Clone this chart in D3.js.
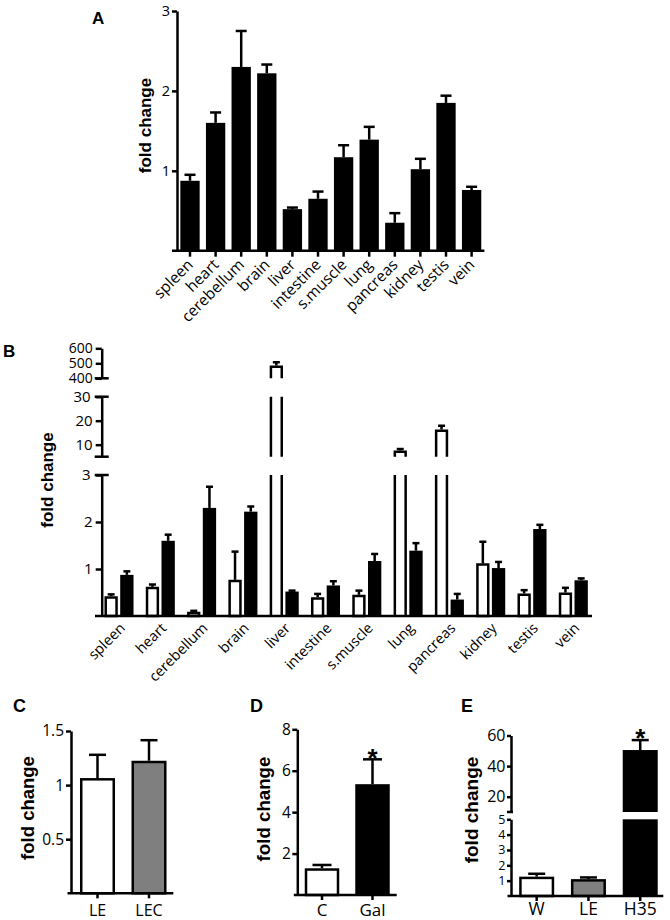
<!DOCTYPE html>
<html><head><meta charset="utf-8">
<script src="https://cdn.jsdelivr.net/npm/d3@7"></script>
<style>body{margin:0;background:#fff}svg{display:block}</style>
</head><body>
<svg id="c" width="670" height="920"></svg>
<script>
// ---------------- DATA ----------------
const tissues = ["spleen","heart","cerebellum","brain","liver","intestine","s.muscle","lung","pancreas","kidney","testis","vein"];
// filled series (panel A and filled bars of panel B)
const filledMean = [0.875,1.60,2.30,2.22,0.52,0.65,1.17,1.39,0.35,1.02,1.85,0.76];
const filledErr  = [0.075,0.13,0.45,0.11,0.02,0.09,0.15,0.16,0.12,0.13,0.09,0.04];
// open series (panel B)
const openMean = [0.42,0.62,0.09,0.77,485,0.40,0.45,7.6,16.3,1.12,0.48,0.50];
const openErr  = [0.04,0.05,0.02,0.60,22,0.07,0.09,0.6,1.6,0.46,0.07,0.10];
const aTicks = [1,2,3];
const bSegDomains = [[0,3],[5,30],[400,600]];
const bSegTicks = [[1,2,3],[10,20,30],[400,500,600]];
// panel C
const cCats = ["LE","LEC"];
const cMean = [1.065,1.225];
const cErr  = [0.215,0.19];
const cTicks = [0.5,1,1.5];
// panel D
const dCats = ["C","Gal"];
const dMean = [1.29,5.35];
const dErr  = [0.16,1.2];
const dTicks = [2,4,6,8];
// panel E
const eCats = ["W","LE","H35"];
const eMean = [1.26,1.10,50.5];
const eErr  = [0.19,0.11,6.5];
const eSegDomains = [[0,5],[10,60]];
const eSegTicks = [[1,2,3,4,5],[20,40,60]];
const dStar = ["Gal"], eStar = ["H35"];

// ---------------- DRAWING ----------------
const svg = d3.select("#c");
const FONT = "'Open Sans','Noto Sans',sans-serif";
const BOLD = "'Liberation Sans',Arial,Helvetica,sans-serif";
const SW = 2.5;

function styleAxis(g, size){
  g.attr("font-family",null).attr("font-size",null);
  g.selectAll("path.domain").attr("stroke","#000").attr("stroke-width",SW);
  g.selectAll(".tick line").attr("stroke","#000").attr("stroke-width",SW);
  g.selectAll(".tick text").attr("fill","#000").style("font-family",FONT).style("font-size",size+"px");
}
function hline(g,x1,x2,y){g.append("line").attr("x1",x1).attr("x2",x2).attr("y1",y).attr("y2",y).attr("stroke","#000").attr("stroke-width",SW);}
function errBar(g,cx,y1,y2,capW){
  g.append("line").attr("x1",cx).attr("x2",cx).attr("y1",y1).attr("y2",y2).attr("stroke","#000").attr("stroke-width",SW);
  hline(g,cx-capW/2,cx+capW/2,y2);
}
function yTitle(x,y,size){
  svg.append("text").attr("transform",`translate(${x},${y}) rotate(-90)`).attr("text-anchor","middle")
    .style("font-family",BOLD).style("font-weight","bold").style("font-size",size+"px").text("fold change");
}
function letter(t,x,y,size){
  svg.append("text").attr("x",x).attr("y",y).style("font-family",BOLD).style("font-weight","bold").style("font-size",size+"px").text(t);
}
function star(x,y){
  svg.append("text").attr("x",x).attr("y",y).attr("text-anchor","middle").style("font-family",BOLD).style("font-weight","bold").style("font-size","26px").text("*");
}

// ===== Panel A =====
letter("A",92,24,17);
const ax = d3.scaleBand().domain(tissues).range([177.2,484.4]).paddingInner(0.245).paddingOuter(0.1225);
const ay = d3.scaleLinear().domain([0,3]).range([250.7,11]);
const gA = svg.append("g");
tissues.forEach((t,i)=>{
  const v=filledMean[i], e=filledErr[i], cx=ax(t)+ax.bandwidth()/2;
  errBar(gA,cx,ay(v),ay(v+e),11);
  gA.append("rect").attr("x",ax(t)).attr("y",ay(v)).attr("width",ax.bandwidth()).attr("height",ay(0)-ay(v)).attr("fill","#000");
});
const gAy = svg.append("g").attr("transform","translate(177,0)")
  .call(d3.axisLeft(ay).tickValues(aTicks).tickSize(5).tickSizeOuter(0).tickPadding(2).tickFormat(d3.format("d")));
styleAxis(gAy,14.5);
const gAx = svg.append("g").attr("transform",`translate(0,${ay(0)})`)
  .call(d3.axisBottom(ax).tickSize(6).tickSizeOuter(0));
styleAxis(gAx,15.5);
gAx.select("path.domain").remove();
hline(gAx,172,ax.range()[1],0);
gAx.selectAll(".tick text").attr("x",0).attr("y",0).attr("dy",0)
  .attr("transform","translate(4,15) rotate(-45)").style("text-anchor","end");
yTitle(151,125.5,17);

// ===== Panel B =====
letter("B",3,357,17);
const bAxisX = 101.7;
const bSegRanges = [[616,475],[456.7,396.7],[378.3,348.3]];
const bScales = bSegDomains.map((d,i)=>d3.scaleLinear().domain(d).range(bSegRanges[i]));
const bx = d3.scaleBand().domain(tissues).range([98.35,593.95]);
const bx1 = d3.scaleBand().domain(["open","filled"]).range([0,bx.bandwidth()]).paddingInner(0.153).paddingOuter(0.39);
const gB = svg.append("g");

function segBar(g,x,w,v,scales,mode,fill){
  scales.forEach((s,i)=>{
    const [lo,hi]=s.domain();
    if(v<=lo) return;
    const ends = v<=hi;
    const yb=s(lo), yt=s(Math.min(v,hi));
    if(mode==="filled"){
      g.append("rect").attr("x",x).attr("y",yt).attr("width",w).attr("height",yb-yt).attr("fill",fill||"#000");
    } else {
      const xl=x+SW/2, xr=x+w-SW/2, p=d3.path();
      if(ends){
        const ytt=yt+SW/2;
        p.moveTo(xl,yb);p.lineTo(xl,ytt);p.lineTo(xr,ytt);p.lineTo(xr,yb);
        if(i===0) p.closePath();
        g.append("path").attr("d",p.toString()).attr("fill","#fff").attr("stroke","#000").attr("stroke-width",SW);
      } else {
        g.append("rect").attr("x",x).attr("y",yt).attr("width",w).attr("height",yb-yt).attr("fill","#fff");
        p.moveTo(xl,yb);p.lineTo(xl,yt);p.moveTo(xr,yt);p.lineTo(xr,yb);
        g.append("path").attr("d",p.toString()).attr("fill","none").attr("stroke","#000").attr("stroke-width",SW);
      }
    }
  });
}
function segErr(g,cx,v,e,scales,capW){
  const s = scales.find(s=>v>s.domain()[0] && v<=s.domain()[1]);
  if(!s) return;
  errBar(g,cx,s(v),s(Math.min(v+e,s.domain()[1])),capW);
}
tissues.forEach((t,i)=>{
  const xo=bx(t)+bx1("open"), xf=bx(t)+bx1("filled"), w=bx1.bandwidth();
  segErr(gB,xo+w/2,openMean[i],openErr[i],bScales,7);
  segBar(gB,xo,w,openMean[i],bScales,"open");
  segErr(gB,xf+w/2,filledMean[i],filledErr[i],bScales,7);
  segBar(gB,xf,w,filledMean[i],bScales,"filled");
});
bScales.forEach((s,i)=>{
  const g = svg.append("g").attr("transform",`translate(${bAxisX},0)`)
    .call(d3.axisLeft(s).tickValues(bSegTicks[i]).tickSize(6).tickSizeOuter(0).tickPadding(3).tickFormat(d3.format("d")));
  styleAxis(g,i===2?14:15);
  const [lo,hi]=s.domain();
  if(i>0) hline(g,-7,7,s(lo));
  if(i<bScales.length-1){ hline(g,-7,7,s(hi)); g.selectAll(".tick text").filter(d=>d===hi).attr("x",-11); }
});
const gBx = svg.append("g").attr("transform",`translate(0,${bScales[0](0)})`)
  .call(d3.axisBottom(bx).tickSize(0).tickSizeOuter(0));
styleAxis(gBx,14.5);
gBx.select("path.domain").remove();
hline(gBx,95,592,0);
gBx.selectAll(".tick text").attr("x",0).attr("y",0).attr("dy",0)
  .attr("transform","translate(7,13) rotate(-45)").style("text-anchor","end");
yTitle(53,480,17);

// ===== simple bar panels =====
function simplePanel(cfg){
  const x = d3.scaleBand().domain(cfg.cats).range(cfg.xr).paddingInner(cfg.pad).paddingOuter(cfg.pad/2);
  const g = svg.append("g");
  const bw = x.bandwidth();
  cfg.cats.forEach((c,i)=>{
    const v=cfg.mean[i], e=cfg.err[i], cx=x(c)+bw/2, fill=cfg.fills[i];
    if(cfg.segs){
      segErr(g,cx,v,e,cfg.segs,cfg.cap);
      if(fill==="#000") segBar(g,x(c),bw,v,cfg.segs,"filled","#000");
      else {
        cfg.segs.forEach(s=>{
          const [lo,hi]=s.domain(); if(v<=lo) return;
          g.append("rect").attr("x",x(c)+SW/2).attr("y",s(Math.min(v,hi))+SW/2).attr("width",bw-SW).attr("height",s(lo)-s(Math.min(v,hi))-SW/2)
            .attr("fill",fill).attr("stroke","#000").attr("stroke-width",SW);
        });
      }
    } else {
      const y=cfg.y;
      errBar(g,cx,y(v),y(v+e),cfg.cap);
      if(fill==="#000") g.append("rect").attr("x",x(c)).attr("y",y(v)).attr("width",bw).attr("height",y(0)-y(v)).attr("fill","#000");
      else g.append("rect").attr("x",x(c)+SW/2).attr("y",y(v)+SW/2).attr("width",bw-SW).attr("height",y(0)-y(v)-SW/2)
            .attr("fill",fill).attr("stroke","#000").attr("stroke-width",SW);
    }
  });
  const gx = svg.append("g").attr("transform",`translate(0,${cfg.y0})`)
    .call(d3.axisBottom(x).tickSize(5).tickSizeOuter(0));
  styleAxis(gx,cfg.xfs);
  gx.select("path.domain").remove();
  hline(gx,cfg.axisX-3.5,cfg.xEnd,0);
  gx.selectAll(".tick text").attr("y",cfg.labDy).attr("dy",0);
  return x;
}

// ===== Panel C =====
letter("C",13,712,18);
const cy = d3.scaleLinear().domain([0,1.5]).range([893.3,731]);
simplePanel({cats:cCats,mean:cMean,err:cErr,fills:["#fff","#7f7f7f"],xr:[71.75,174.75],pad:0.32,y:cy,y0:893.3,cap:17,axisX:71,xEnd:173.3,xfs:16,labDy:22.5});
const gCy = svg.append("g").attr("transform","translate(71,0)")
  .call(d3.axisLeft(cy).tickValues(cTicks).tickSize(5).tickSizeOuter(0).tickPadding(2).tickFormat(d=>String(d)));
styleAxis(gCy,15.5);
yTitle(34,808,18.5);

// ===== Panel D =====
letter("D",250,712,18);
const dy = d3.scaleLinear().domain([0,8]).range([895,729.3]);
const dx = simplePanel({cats:dCats,mean:dMean,err:dErr,fills:["#fff","#000"],xr:[296.75,397.75],pad:0.317,y:dy,y0:895,cap:19,axisX:297.3,xEnd:396.7,xfs:17,labDy:20.5});
const gDy = svg.append("g").attr("transform","translate(297.3,0)")
  .call(d3.axisLeft(dy).tickValues(dTicks).tickSize(5).tickSizeOuter(0).tickPadding(1.5).tickFormat(d3.format("d")));
styleAxis(gDy,15.5);
dStar.forEach(c=>{star(dx(c)+dx.bandwidth()/2, 767);});
yTitle(269.5,809,18.7);

// ===== Panel E =====
letter("E",461,712,18);
const eSegRanges = [[896,819.3],[812,735.5]];
const eScales = eSegDomains.map((d,i)=>d3.scaleLinear().domain(d).range(eSegRanges[i]));
const ex = simplePanel({cats:eCats,mean:eMean,err:eErr,fills:["#fff","#7f7f7f","#000"],xr:[510.8,666.1],pad:0.324,segs:eScales,y0:896,cap:17,axisX:511,xEnd:663.3,xfs:17.5,labDy:19});
eScales.forEach((s,i)=>{
  const g = svg.append("g").attr("transform","translate(511,0)")
    .call(d3.axisLeft(s).tickValues(eSegTicks[i]).tickSize(4).tickSizeOuter(0).tickPadding(1.5).tickFormat(d3.format("d")));
  styleAxis(g, i===0?12.5:16);
  if(i===1) hline(g,-4,2,s(s.domain()[0]));
});
eStar.forEach(c=>{star(ex(c)+ex.bandwidth()/2, 747);});
yTitle(478,810,19);
</script>
</body></html>
